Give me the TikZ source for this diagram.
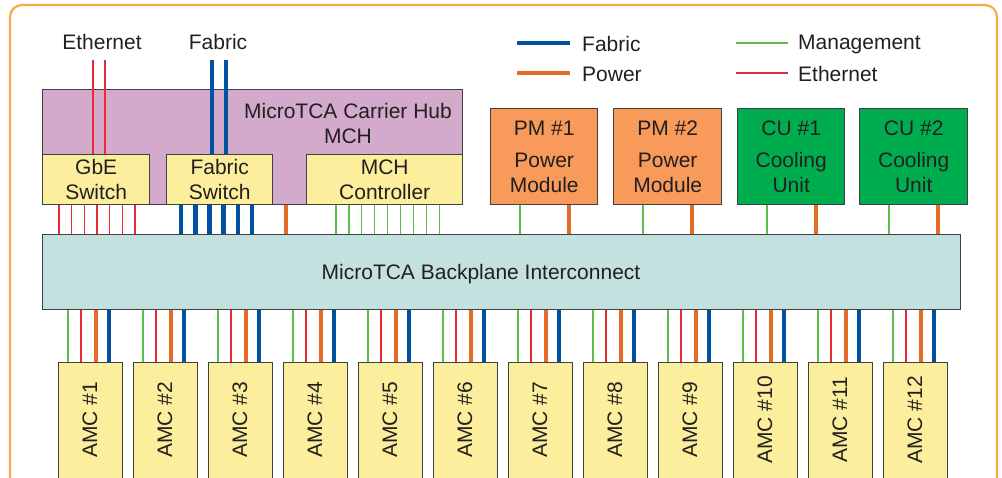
\documentclass[tikz,border=0pt]{standalone}
\usepackage{fontspec}
\setmainfont{Liberation Sans}
\usetikzlibrary{calc}
\definecolor{frameor}{HTML}{F8A94A}
\definecolor{mchpurple}{HTML}{D3A9CC}
\definecolor{swyellow}{HTML}{FBEE9C}
\definecolor{bpcyan}{HTML}{C3E2DF}
\definecolor{pmorange}{HTML}{F79A5A}
\definecolor{cugreen}{HTML}{00AD4E}
\definecolor{wfabric}{HTML}{0051A2}
\definecolor{wpower}{HTML}{E66B27}
\definecolor{wmgmt}{HTML}{5CBD4A}
\definecolor{weth}{HTML}{EC2A32}
\definecolor{boxline}{HTML}{404040}
\definecolor{txt}{HTML}{231F20}
\tikzset{
  box/.style={draw=boxline, line width=1.4pt, inner sep=0pt, anchor=north west, align=center,
    font=\fontsize{21}{25}\selectfont, text=txt},
  lbl/.style={inner sep=0pt, align=center, font=\fontsize{21}{25}\selectfont, text=txt},
  fabw/.style={draw=wfabric, line width=4.6pt},
  poww/.style={draw=wpower, line width=4.6pt},
  mgmtw/.style={draw=wmgmt, line width=1.3pt},
  ethw/.style={draw=weth, line width=1.3pt},
}
\begin{document}
\begin{tikzpicture}[x=1pt,y=-1pt]
\useasboundingbox (0,0) rectangle (1002,478);
\clip (0,0) rectangle (1002,478);
% outer frame
\draw[frameor, line width=2.2pt, rounded corners=12pt] (10,520) -- (10,5) -- (997,5) -- (997,520);

% legend
\coordinate (lgf1) at (517,43); \coordinate (lgf2) at (570,43);
\coordinate (lgp1) at (517,73); \coordinate (lgp2) at (570,73);
\coordinate (lgm1) at (736,43); \coordinate (lgm2) at (788,43);
\coordinate (lge1) at (736,73); \coordinate (lge2) at (788,73);
\draw[fabw] (lgf1) -- (lgf2);
\draw[poww] (lgp1) -- (lgp2);
\draw[mgmtw] (lgm1) -- (lgm2);
\draw[ethw] (lge1) -- (lge2);
\node[lbl, anchor=west] (lgft) at (582,44) {Fabric};
\node[lbl, anchor=west] (lgpt) at (582,74) {Power};
\node[lbl, anchor=west] (lgmt) at (798,44) {Management};
\node[lbl, anchor=west] (lget) at (798,74) {Ethernet};

% MCH
\node[box, fill=mchpurple, minimum width=420pt, minimum height=115pt] (mch) at (42,89) {};
\node[lbl] (mchtxt) at (348,123) {MicroTCA Carrier Hub\\MCH};
\node[box, fill=swyellow, minimum width=107pt, minimum height=50pt] (gbe) at (42,154) {GbE\\Switch};
\node[box, fill=swyellow, minimum width=106pt, minimum height=50pt] (fsw) at (166,154) {Fabric\\Switch};
\node[box, fill=swyellow, minimum width=156pt, minimum height=50pt] (ctl) at (306,154) {MCH\\Controller};

% external labels
\node[lbl] (ethtxt) at (102,42) {Ethernet};
\node[lbl] (fabtxt) at (218,42) {Fabric};
\coordinate (toplev) at (0,60);
\foreach \o in {51,63}{
  \path ($(gbe.north west)+(\o,0)$) coordinate (t);
  \draw[ethw] (t |- toplev) -- (t);
}
\foreach \o in {46,60}{
  \path ($(fsw.north west)+(\o,0)$) coordinate (t);
  \draw[fabw] (t |- toplev) -- (t);
}

% backplane
\node[box, fill=bpcyan, minimum width=918pt, minimum height=75pt] (bp) at (42,234) {};
\node[lbl] (bptxt) at (481,274) {MicroTCA Backplane Interconnect};

% MCH to backplane
\foreach \k in {0,...,6}{
  \path ($(gbe.south west)+(17+12.67*\k,0)$) coordinate (t);
  \draw[ethw] (t) -- (t |- bp.north);
}
\foreach \k in {0,...,5}{
  \path ($(fsw.south west)+(15+14.2*\k,0)$) coordinate (t);
  \draw[fabw] (t) -- (t |- bp.north);
}
\path ($(mch.south west)+(244,0)$) coordinate (t);
\draw[poww] (t) -- (t |- bp.north);
\foreach \k in {0,...,8}{
  \path ($(ctl.south west)+(30+12.9*\k,0)$) coordinate (t);
  \draw[mgmtw] (t) -- (t |- bp.north);
}

% power modules and cooling units
\node[box, fill=pmorange, minimum width=107pt, minimum height=96pt] (pm1) at (490,108) {PM \#1\\[7pt]Power\\Module};
\node[box, fill=pmorange, minimum width=108pt, minimum height=96pt] (pm2) at (613,108) {PM \#2\\[7pt]Power\\Module};
\node[box, fill=cugreen, minimum width=107pt, minimum height=96pt] (cu1) at (737,108) {CU \#1\\[7pt]Cooling\\Unit};
\node[box, fill=cugreen, minimum width=108pt, minimum height=96pt] (cu2) at (859,108) {CU \#2\\[7pt]Cooling\\Unit};
\foreach \n in {pm1,pm2,cu1,cu2}{
  \path ($(\n.south west)+(30,0)$) coordinate (t);
  \draw[mgmtw] (t) -- (t |- bp.north);
  \path ($(\n.south west)+(79,0)$) coordinate (t);
  \draw[poww] (t) -- (t |- bp.north);
}

% AMCs
\foreach \i in {1,...,12}{
  \node[box, fill=swyellow, minimum width=64pt, minimum height=140pt] (amc\i) at ({58+75*(\i-1)},362) {};
  \node[lbl, rotate=90] (amct\i) at ({90+75*(\i-1)},420) {AMC \#\i};
  \path ($(amc\i.north west)+(10,0)$) coordinate (t);
  \draw[mgmtw] (t) -- (t |- bp.south);
  \path ($(amc\i.north west)+(23,0)$) coordinate (t);
  \draw[ethw] (t) -- (t |- bp.south);
  \path ($(amc\i.north west)+(38,0)$) coordinate (t);
  \draw[poww] (t) -- (t |- bp.south);
  \path ($(amc\i.north west)+(51,0)$) coordinate (t);
  \draw[fabw] (t) -- (t |- bp.south);
}
\end{tikzpicture}
\end{document}
